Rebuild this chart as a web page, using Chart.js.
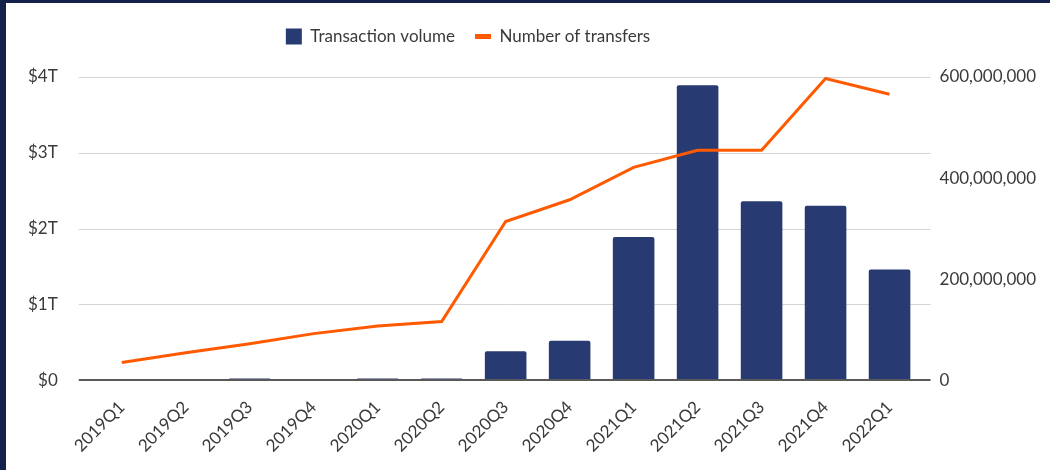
<!DOCTYPE html>
<html>
<head>
<meta charset="utf-8">
<script src="https://cdn.jsdelivr.net/npm/chart.js@4.4.1/dist/chart.umd.min.js"></script>
<style>
  html, body { margin: 0; padding: 0; background: #13214b; }
  #wrap { position: absolute; left: 6px; top: 3px; width: 1044px; height: 467px; background: #fff; }
</style>
</head>
<body>
<div id="wrap"><canvas id="chart"></canvas></div>
<script>
const quarters = ['2019Q1', '2019Q2', '2019Q3', '2019Q4', '2020Q1', '2020Q2', '2020Q3', '2020Q4', '2021Q1', '2021Q2', '2021Q3', '2021Q4', '2022Q1'];
// transaction volume, trillions of USD
const volumeT = [0, 0, 0.02, 0, 0.02, 0.02, 0.38, 0.52, 1.89, 3.89, 2.36, 2.30, 1.46];
// number of transfers
const transfers = [35e6, 54e6, 72e6, 92e6, 107e6, 116e6, 314e6, 357e6, 421e6, 455e6, 455e6, 597e6, 566e6];

const NAVY = '#283a72';
const ORANGE = '#ff5a00';
const TEXT = '#3a3a3a';

Chart.defaults.font.family = 'Lato, "Open Sans", sans-serif';
Chart.defaults.font.size = 17;
Chart.defaults.color = TEXT;

// grid lines a bit wider than the plot area, like the source chart
const wideGrid = {
  id: 'wideGrid',
  beforeDatasetsDraw(chart) {
    const { ctx, chartArea } = chart;
    const y = chart.scales.y;
    ctx.save();
    y.ticks.forEach(t => {
      if (t.value === 0) return;
      const py = Math.round(y.getPixelForValue(t.value)) + 0.5;
      ctx.strokeStyle = '#d4d4d4';
      ctx.lineWidth = 1;
      ctx.beginPath();
      ctx.moveTo(chartArea.left - 11, py);
      ctx.lineTo(chartArea.right + 9, py);
      ctx.stroke();
    });
    ctx.restore();
  },
  afterDatasetsDraw(chart) {
    const { ctx, chartArea } = chart;
    const py = chart.scales.y.getPixelForValue(0);
    ctx.save();
    ctx.strokeStyle = '#595959';
    ctx.lineWidth = 2;
    ctx.beginPath();
    ctx.moveTo(chartArea.left - 11, py);
    ctx.lineTo(chartArea.right + 9, py);
    ctx.stroke();
    ctx.restore();
  }
};

// legend sits left of centre and has more room below it in the source
const legendTweak = {
  id: 'legendTweak',
  beforeInit(chart) {
    const fit = chart.legend.fit;
    chart.legend.fit = function () {
      fit.bind(chart.legend)();
      this.height += 22;
    };
  },
  afterLayout(chart) {
    const l = chart.legend;
    if (!l) return;
    l.left -= 64;
    l.right -= 64;
  }
};

// chart.js counts tick padding on both sides of the labels, keep only the inner one
const trimPad = axis => { axis.width -= axis.options.ticks.padding; };

new Chart(document.getElementById('chart'), {
  plugins: [wideGrid, legendTweak],
  data: {
    labels: quarters,
    datasets: [
      {
        label: 'Transaction volume',
        type: 'bar',
        data: volumeT,
        backgroundColor: NAVY,
        borderRadius: { topLeft: 2, topRight: 2 },
        borderSkipped: 'start',
        barPercentage: 0.65,
        categoryPercentage: 1,
        yAxisID: 'y',
        pointStyle: 'rect',
        order: 2
      },
      {
        label: 'Number of transfers',
        type: 'line',
        data: transfers,
        borderColor: ORANGE,
        backgroundColor: ORANGE,
        borderWidth: 3,
        pointRadius: 0,
        tension: 0,
        yAxisID: 'y1',
        pointStyle: 'line',
        order: 1
      }
    ]
  },
  options: {
    responsive: true,
    maintainAspectRatio: false,
    animation: false,
    layout: { padding: { left: 22, right: 14, top: 5, bottom: 5 } },
    scales: {
      x: {
        grid: { display: false },
        border: { display: false },
        ticks: { maxRotation: 45, minRotation: 45, padding: 9, color: TEXT, autoSkip: false },
        afterFit(axis) {
          axis.paddingLeft = 0;
          axis.paddingRight = 0;
        }
      },
      y: {
        position: 'left',
        min: 0,
        max: 4,
        grid: { display: false },
        border: { display: false },
        ticks: { stepSize: 1, padding: 24, color: TEXT, callback: v => v === 0 ? '$0' : '$' + v + 'T' },
        afterFit: trimPad
      },
      y1: {
        position: 'right',
        min: 0,
        max: 600e6,
        grid: { drawOnChartArea: false, drawTicks: false },
        border: { display: false },
        ticks: { stepSize: 200e6, padding: 18, color: TEXT, callback: v => v.toLocaleString('en-US') },
        afterFit: trimPad
      }
    },
    plugins: {
      legend: {
        position: 'top',
        labels: {
          usePointStyle: true,
          pointStyleWidth: 16,
          boxHeight: 16,
          padding: 20,
          color: TEXT,
          sort: (a, b) => a.datasetIndex - b.datasetIndex,
          generateLabels: (chart) => Chart.defaults.plugins.legend.labels.generateLabels(chart).map(item => {
            item.lineWidth = item.pointStyle === 'line' ? 5 : 0;
            return item;
          })
        }
      },
      tooltip: { enabled: false }
    }
  }
});
</script>
</body>
</html>
